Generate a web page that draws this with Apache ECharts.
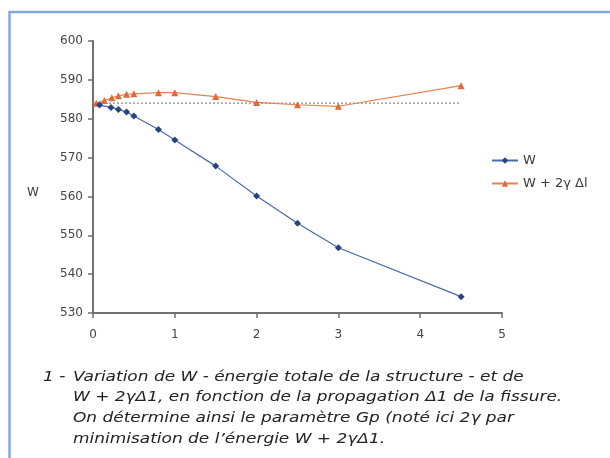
<!DOCTYPE html>
<html>
<head>
<meta charset="utf-8">
<script src="https://cdn.jsdelivr.net/npm/echarts@6/dist/echarts.min.js"></script>
<style>
html,body{margin:0;padding:0;background:#fff;}
#c{width:610px;height:458px;}
</style>
</head>
<body>
<div id="c"></div>
<script>
// Data
var blueX = [0.08, 0.22, 0.31, 0.41, 0.5, 0.8, 1, 1.5, 2, 2.5, 3, 4.5];
var blueY = [583.5, 582.9, 582.4, 581.7, 580.7, 577.2, 574.5, 567.8, 560.1, 553.1, 546.8, 534.2];
var redX = [0.04, 0.14, 0.23, 0.31, 0.41, 0.5, 0.8, 1, 1.5, 2, 2.5, 3, 4.5];
var redY = [584.0, 584.7, 585.4, 585.9, 586.3, 586.4, 586.7, 586.7, 585.7, 584.2, 583.6, 583.2, 588.5];
var refX = [0, 4.5];
var refY = [584.0, 584.0];
var seriesNames = ['W', 'W + 2\u03B3 \u0394l'];
var yAxisName = 'W';
var captionNum = '1 -';
var captionLines = [
  'Variation de W - \u00E9nergie totale de la structure - et de',
  'W + 2\u03B3\u03941, en fonction de la propagation \u03941 de la fissure.',
  'On d\u00E9termine ainsi le param\u00E8tre Gp (not\u00E9 ici 2\u03B3 par',
  'minimisation de l\u2019\u00E9nergie W + 2\u03B3\u03941.'
];

function pairs(xs, ys) { return xs.map(function (x, i) { return [x, ys[i]]; }); }

var chart = echarts.init(document.getElementById('c'), null, {renderer: 'canvas'});
var font = '"DejaVu Sans", Verdana, sans-serif';
var capFont = '"DejaVu Sans", Verdana, sans-serif';
var capScaleX = 1.17;

var graphics = [
  {type: 'polyline', shape: {points: [[9.5, 458], [9.5, 12], [610, 12]]},
   style: {stroke: '#80a9de', lineWidth: 2.5, fill: null}, silent: true},
  {type: 'text', x: 27, y: 193,
   style: {text: yAxisName, font: '12px ' + font, fill: '#3a3a3a', verticalAlign: 'middle', align: 'left'}},
  {type: 'text', x: 43, y: 377, scaleX: capScaleX,
   style: {text: captionNum, font: 'italic 14.5px ' + capFont, fill: '#222', verticalAlign: 'middle', align: 'left'}}
];
captionLines.forEach(function (t, i) {
  graphics.push({type: 'text', x: 73, y: 377 + i * 20.7, scaleX: capScaleX,
    style: {text: t, font: 'italic 14.5px ' + capFont, fill: '#222', verticalAlign: 'middle', align: 'left'}});
});

chart.setOption({
  animation: false,
  backgroundColor: '#fff',
  grid: {left: 93, right: 108, top: 41, bottom: 145},
  legend: {
    orient: 'vertical', left: 491, top: 154, padding: 0,
    itemWidth: 26, itemHeight: 8, itemGap: 10,
    data: seriesNames,
    textStyle: {fontFamily: font, fontSize: 13, color: '#3a3a3a'}
  },
  xAxis: {
    type: 'value', min: 0, max: 5, interval: 1,
    axisLine: {show: true, onZero: false, lineStyle: {color: '#707070', width: 2}},
    axisTick: {show: true, length: 5, lineStyle: {color: '#707070', width: 1.5}},
    axisLabel: {margin: 16, fontFamily: font, fontSize: 12, color: '#444'},
    splitLine: {show: false}
  },
  yAxis: {
    type: 'value', min: 530, max: 600, interval: 10,
    axisLine: {show: true, lineStyle: {color: '#707070', width: 2}},
    axisTick: {show: true, length: 5, lineStyle: {color: '#707070', width: 1.5}},
    axisLabel: {margin: 10, fontFamily: font, fontSize: 12, color: '#444'},
    splitLine: {show: false}
  },
  graphic: graphics,
  series: [
    {
      name: 'ref', type: 'line', data: pairs(refX, refY), symbol: 'none', silent: true,
      lineStyle: {color: '#a0a0a0', width: 1.5, type: [2, 2]}, z: 1
    },
    {
      name: seriesNames[0], type: 'line', data: pairs(blueX, blueY),
      symbol: 'diamond', symbolSize: 7,
      itemStyle: {color: '#24457f'},
      lineStyle: {color: '#4a6aa8', width: 1.2}, z: 3
    },
    {
      name: seriesNames[1], type: 'line', data: pairs(redX, redY),
      symbol: 'triangle', symbolSize: 7,
      itemStyle: {color: '#e0683a'},
      lineStyle: {color: '#e8804f', width: 1.2}, z: 2
    }
  ]
});
</script>
</body>
</html>
